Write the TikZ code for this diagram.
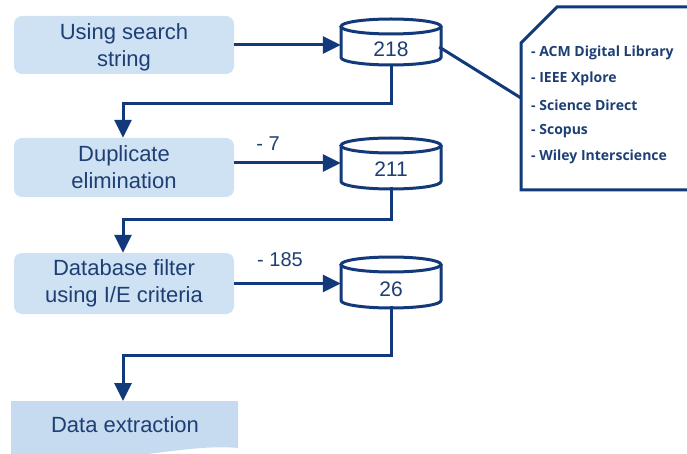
\documentclass[tikz,border=0pt]{standalone}
\usepackage{fontspec}
\setmainfont{Liberation Sans}
\newfontfamily\calloutfont{Open Sans}
\usetikzlibrary{arrows.meta,calc}
\definecolor{navy}{HTML}{12397A}
\definecolor{txtblue}{HTML}{1E3F74}
\definecolor{boxfill}{HTML}{CFE2F3}
\definecolor{docfill}{HTML}{C6DBF0}
\tikzset{
  procbox/.style={fill=boxfill, rounded corners=8pt, minimum width=220pt, align=center,
    text=txtblue, font=\fontsize{22}{27}\selectfont, inner sep=0pt},
  conn/.style={draw=navy, line width=3pt, -{Triangle[length=18pt,width=17pt]}},
  plainline/.style={draw=navy, line width=3pt},
  cylline/.style={draw=navy, line width=3pt, fill=white},
  cylhold/.style={minimum width=100pt, minimum height=46pt, inner sep=0pt},
  numtext/.style={text=txtblue, font=\fontsize{21}{25}\selectfont, inner sep=0pt},
  lbl/.style={text=txtblue, font=\fontsize{20}{24}\selectfont, inner sep=0pt},
  dbitem/.style={text=txtblue, font=\calloutfont\bfseries\fontsize{14}{16}\selectfont, anchor=west, inner sep=0pt}
}
\begin{document}
\begin{tikzpicture}[x=1pt,y=-1pt]
\useasboundingbox (0,0) rectangle (687,454);
\clip (0,0) rectangle (687,454);
% process boxes
\node[procbox, minimum height=58pt, text depth=-3pt] (b1) at (124,45) {Using search\\string};
\node[procbox, minimum height=59pt] (b2) at (124,167.5) {Duplicate\\elimination};
\node[procbox, minimum height=61pt] (b3) at (124,283.5) {Database filter\\using I/E criteria};
% document shape
\fill[docfill] (11,401) -- (238,401) -- (238,448) .. controls (205,445) and (170,452) .. (130,456) -- (11,458) -- cycle;
\node[text=txtblue, font=\fontsize{22}{26}\selectfont, inner sep=0pt] (b4t) at (125,425) {Data extraction};
\coordinate (b4) at (123,401);
% cylinders
\foreach \n/\yt/\yb in {1/19/65, 2/138/189, 3/257/308}{
  \draw[cylline] (341,\yt+7.5) -- (341,\yb-7.5) arc[start angle=180,end angle=360,x radius=50pt,y radius=7.5pt] -- (441,\yt+7.5);
  \draw[cylline] (391,\yt+7.5) ellipse[x radius=50pt, y radius=7.5pt];
}
\node[cylhold] (c1) at (391,42) {};
\node[cylhold] (c2) at (391,163.5) {};
\node[cylhold] (c3) at (391,282.5) {};
\node[numtext] (n1) at (391,49) {218};
\node[numtext] (n2) at (391,169) {211};
\node[numtext] (n3) at (391,289) {26};
% horizontal arrows
\draw[conn] (b1.east) -- (b1.east -| c1.west);
\draw[conn] ([yshift=4.5pt]b2.east) -- ([yshift=4.5pt]b2.east -| c2.west);
\draw[conn] (b3.east) -- (b3.east -| c3.west);
\node[lbl] (m7) at (268,144) {- 7};
\node[lbl] (m185) at (280,260) {- 185};
% down connectors
\draw[conn] (c1.south) -- ++(0,38) -| ([xshift=-1pt]b1.south |- b2.north);
\draw[conn] (c2.south) -- (391,220) -| ([xshift=-1pt]b2.south |- b3.north);
\draw[conn] (c3.south) -- (391,355) -| (b4);
% callout
\draw[plainline, line join=miter] (700,7) -- (557,7) -- (521,43) -- (521,190) -- (700,190);
\coordinate (cl) at (521,98);
\draw[plainline] (c1.east) ++(-2,5) -- (cl);
\node[dbitem] (d1) at (531,53) {- ACM Digital Library};
\node[dbitem] (d2) at (531,79) {- IEEE Xplore};
\node[dbitem] (d3) at (531,105) {- Science Direct};
\node[dbitem] (d4) at (531,131) {- Scopus};
\node[dbitem] (d5) at (531,157) {- Wiley Interscience};
\end{tikzpicture}
\end{document}
